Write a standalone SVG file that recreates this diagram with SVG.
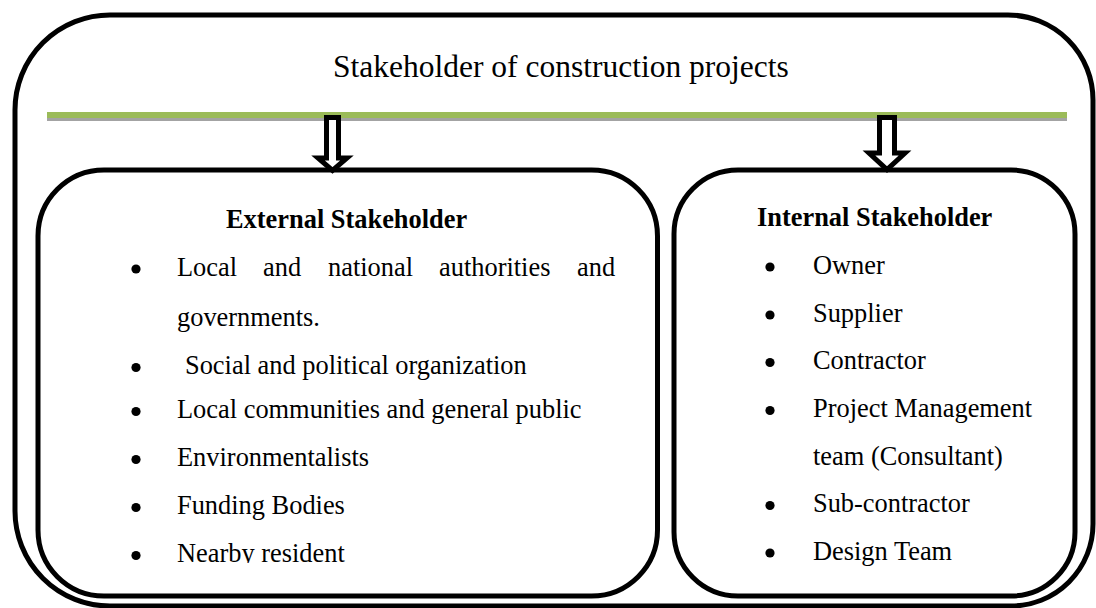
<svg xmlns="http://www.w3.org/2000/svg" width="1096" height="608" viewBox="0 0 1096 608">
  <style>
    .frame { fill: none; stroke: #000; stroke-width: 5; }
    .box { fill: #fff; stroke: #000; stroke-width: 5; }
    .arrow { fill: #fff; stroke: #000; stroke-width: 5; stroke-linejoin: miter; stroke-miterlimit: 10; }
    .title { font-family: "Liberation Serif", "Times New Roman", serif; font-size: 31.5px; fill: #000; }
    .head { font-family: "Liberation Serif", "Times New Roman", serif; font-size: 26.4px; font-weight: bold; fill: #000; }
    .item { font-family: "Liberation Serif", "Times New Roman", serif; font-size: 26.4px; fill: #000; }
    .dot { fill: #000; }
  </style>
  <defs>
    <clipPath id="leftTextClip">
      <rect x="40" y="172" width="615" height="391"/>
    </clipPath>
  </defs>

  <rect x="0" y="0" width="1096" height="608" fill="#fff"/>

  <!-- outer container -->
  <g id="outer">
    <path class="frame" d="M110,15 H1008 A85,85 0 0 1 1093,100 V524 A82,82 0 0 1 1011,606 H110 A95,95 0 0 1 15,511 V110 A95,95 0 0 1 110,15 Z"/>
    <text class="title" x="333" y="77">Stakeholder of construction projects</text>
    <!-- divider rule with grey shadow -->
    <rect x="47" y="115" width="1020" height="6" fill="#a3a3a3"/>
    <rect x="47" y="112" width="1020" height="6" fill="#9bbb59"/>
  </g>

  <!-- external stakeholders -->
  <g id="external">
    <rect class="box" x="38" y="170" width="619.5" height="426" rx="66" ry="66"/>
    <text class="head" x="226" y="228">External Stakeholder</text>
    <g clip-path="url(#leftTextClip)">
      <g class="item">
        <text y="275.5"><tspan x="177">Local</tspan><tspan x="263">and</tspan><tspan x="328">national</tspan><tspan x="439">authorities</tspan><tspan x="577">and</tspan></text>
        <text x="177" y="326">governments.</text>
        <text x="185" y="374">Social and political organization</text>
        <text x="177" y="418">Local communities and general public</text>
        <text x="177" y="466">Environmentalists</text>
        <text x="177" y="514">Funding Bodies</text>
        <text x="177" y="562">Nearby resident</text>
      </g>
      <g class="dot">
        <circle cx="136" cy="269" r="4.6"/>
        <circle cx="136" cy="367.5" r="4.6"/>
        <circle cx="136" cy="411.5" r="4.6"/>
        <circle cx="136" cy="459.5" r="4.6"/>
        <circle cx="136" cy="507.5" r="4.6"/>
        <circle cx="136" cy="555.5" r="4.6"/>
      </g>
    </g>
  </g>

  <!-- internal stakeholders -->
  <g id="internal">
    <rect class="box" x="674" y="170" width="401" height="426" rx="64" ry="64"/>
    <text class="head" x="757" y="226">Internal Stakeholder</text>
    <g class="item">
      <text x="813" y="273.5">Owner</text>
      <text x="813" y="321.5">Supplier</text>
      <text x="813" y="369">Contractor</text>
      <text x="813" y="417">Project Management</text>
      <text x="813" y="464.5">team (Consultant)</text>
      <text x="813" y="512">Sub-contractor</text>
      <text x="813" y="559.5">Design Team</text>
    </g>
    <g class="dot">
      <circle cx="770" cy="267" r="4.6"/>
      <circle cx="770" cy="315" r="4.6"/>
      <circle cx="770" cy="362.5" r="4.6"/>
      <circle cx="770" cy="410.5" r="4.6"/>
      <circle cx="770" cy="505.5" r="4.6"/>
      <circle cx="770" cy="553" r="4.6"/>
    </g>
  </g>

  <!-- block arrows from the rule down to each group -->
  <g id="connectors">
    <polygon class="arrow" points="326.5,117.5 338.5,117.5 338.5,158 347,158 332.5,170.5 318,158 326.5,158"/>
    <polygon class="arrow" points="879.5,117.5 894.5,117.5 894.5,153 905,153 887,169.5 869,153 879.5,153"/>
  </g>
</svg>
